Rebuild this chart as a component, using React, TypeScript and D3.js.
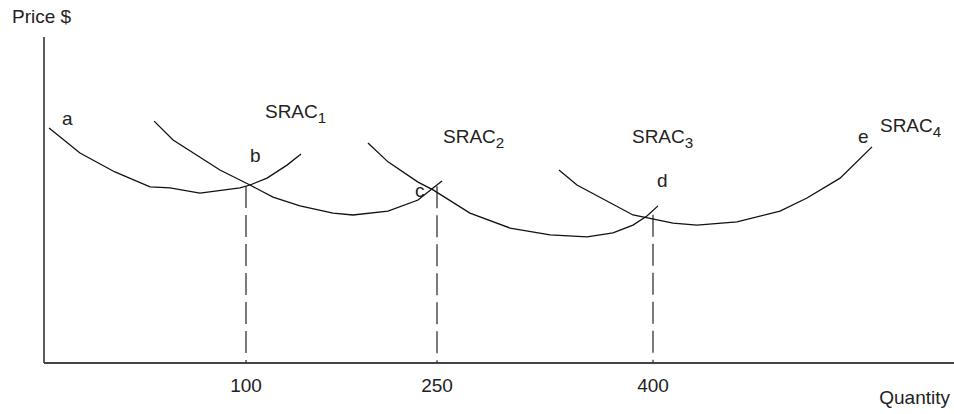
import React from "react";
import * as d3 from "d3";

// Quantity ticks on the horizontal axis
const tickQuantities = [100, 250, 400];
const tickLabels = ["100", "250", "400"];

// Short-run average cost curves (quantity, price in arbitrary units)
const srac1Q = [2.5, 17.8, 35.1, 52.5, 62.4, 77.2, 97.0, 103.1, 116.5, 132.2, 143.2];
const srac1P = [72.1, 64.4, 58.6, 54.0, 53.7, 52.1, 53.7, 54.6, 56.7, 60.7, 64.1];

const srac2Q = [54.5, 63.9, 87.1, 103.1, 121.2, 142.4, 168.3, 184.0, 211.5, 235.1, 246.9, 253.5];
const srac2P = [74.2, 68.4, 59.2, 54.6, 50.9, 48.2, 46.0, 45.4, 46.6, 50.0, 53.7, 55.8];

const srac3Q = [195.8, 211.5, 235.1, 246.9, 272.9, 300.7, 328.5, 354.2, 372.2, 386.1, 395.8, 403.3];
const srac3P = [67.5, 61.7, 55.5, 53.1, 46.0, 41.4, 39.3, 38.7, 39.9, 42.3, 45.1, 48.2];

const srac4Q = [334.7, 347.2, 386.1, 413.3, 429.2, 455.8, 484.4, 502.3, 524.3, 545.5];
const srac4P = [59.2, 54.6, 45.4, 42.9, 42.3, 43.3, 46.6, 50.6, 56.7, 66.3];

// Dashed drop lines from the curve intersections
const dropQ = [100, 250, 400];
const dropP = [54.3, 54.2, 45.5];

// Point labels
const pointNames = ["a", "b", "c", "d", "e"];
const pointQ = [8.9, 103.1, 232.7, 402.7, 536.2];
const pointP = [73.0, 61.7, 50.9, 54.0, 67.5];

// Curve labels
const curveNames = ["SRAC", "SRAC", "SRAC", "SRAC"];
const curveSubs = ["1", "2", "3", "4"];
const curveQ = [114.9, 254.2, 385.4, 550.8];
const curveP = [75.2, 67.5, 67.5, 70.9];

const W = 954;
const H = 414;
const FONT = "'Liberation Sans', Arial, Helvetica, sans-serif";
const FS = 19;

export default function App() {
  const x = d3
    .scaleLinear()
    .domain([0, 100, 250, 400, 600])
    .range([44, 246, 437, 653, 954]);
  const y = d3.scaleLinear().domain([0, 100]).range([363, 37]);

  const line = d3
    .line<[number, number]>()
    .x((d) => x(d[0]))
    .y((d) => y(d[1]));

  const curves = [
    [srac1Q, srac1P],
    [srac2Q, srac2P],
    [srac3Q, srac3P],
    [srac4Q, srac4P],
  ].map(([qs, ps]) => qs.map((q, i) => [q, ps[i]] as [number, number]));

  const x0 = x(0);
  const y0 = y(0);

  return (
    <svg
      width={W}
      height={H}
      style={{ position: "absolute", left: 0, top: 0, background: "#fff" }}
      fontFamily={FONT}
    >
      {/* axes */}
      <line x1={x0} y1={y(100)} x2={x0} y2={y0} stroke="#333" strokeWidth={1.6} />
      <line x1={x0} y1={y0} x2={W} y2={y0} stroke="#444" strokeWidth={2} />

      {/* dashed drop lines */}
      {dropQ.map((q, i) => (
        <line
          key={"d" + i}
          x1={x(q)}
          x2={x(q)}
          y1={y(dropP[i])}
          y2={y0}
          stroke="#333"
          strokeWidth={1.3}
          strokeDasharray="22,7"
        />
      ))}

      {/* curves */}
      {curves.map((c, i) => (
        <path key={"c" + i} d={line(c) || ""} fill="none" stroke="#111" strokeWidth={1.3} />
      ))}

      {/* tick labels */}
      {tickQuantities.map((q, i) => (
        <text key={"t" + i} x={x(q)} y={392} textAnchor="middle" fontSize={FS} fill="#222">
          {tickLabels[i]}
        </text>
      ))}

      {/* axis titles */}
      <text x={12} y={23} fontSize={FS} fill="#222">
        Price $
      </text>
      <text x={950} y={404} textAnchor="end" fontSize={FS} fill="#222">
        Quantity
      </text>

      {/* point labels */}
      {pointNames.map((n, i) => (
        <text key={"p" + i} x={x(pointQ[i])} y={y(pointP[i])} fontSize={FS} fill="#222">
          {n}
        </text>
      ))}

      {/* curve labels */}
      {curveNames.map((n, i) => (
        <text key={"l" + i} x={x(curveQ[i])} y={y(curveP[i])} fontSize={FS} fill="#222">
          {n}
          <tspan fontSize={FS * 0.8} dy={5}>
            {curveSubs[i]}
          </tspan>
        </text>
      ))}
    </svg>
  );
}
